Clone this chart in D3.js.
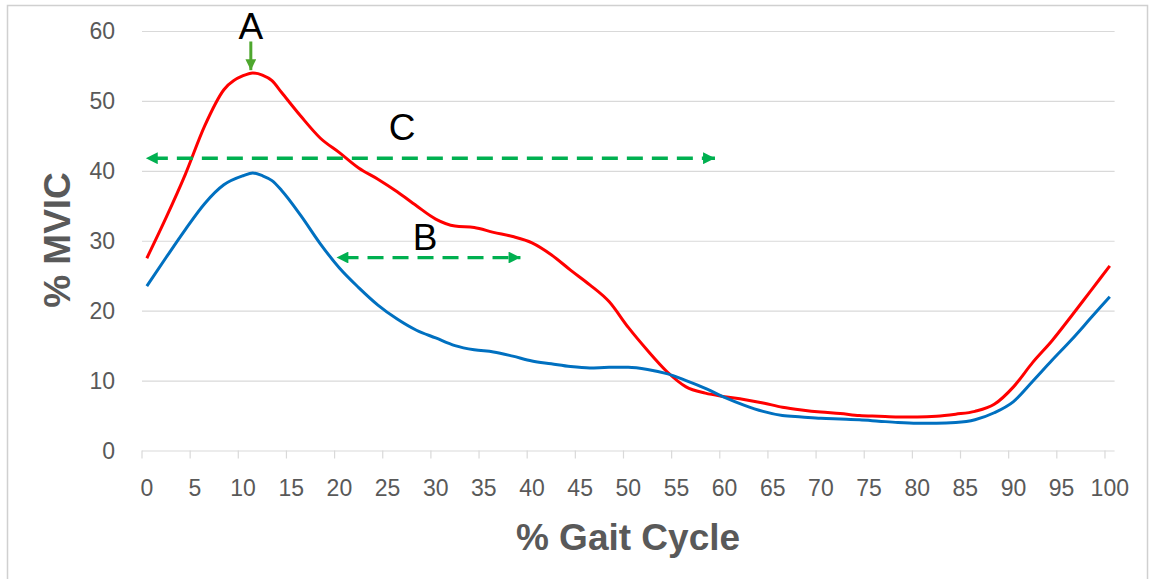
<!DOCTYPE html>
<html>
<head>
<meta charset="utf-8">
<script src="https://cdn.jsdelivr.net/npm/d3@7"></script>
<style>
  body { margin: 0; background: #fff; }
  .grid line { stroke: #d9d9d9; stroke-width: 1.2; }
  .grid path { display: none; }
</style>
</head>
<body>
<div id="chart"></div>
<script>
// % gait cycle sample points
const gaitPct = [0, 2, 4, 6, 8, 10, 11, 12, 13, 14, 16, 18, 20, 22, 24, 26, 28, 30, 32, 34, 36, 38, 40,
    42, 44, 46, 48, 50, 52, 54, 56, 58, 60, 62, 64, 66, 68, 70, 72, 74, 76, 78, 80, 82, 84, 86, 88, 90,
    92, 94, 96, 98, 100]

// red curve (% MVIC)
const redSeries = [27.5, 33.3, 39.5, 46.4, 51.6, 53.6, 54.0, 53.7, 52.9, 51.2, 47.8, 44.7, 42.6, 40.4,
    38.8, 37.0, 35.0, 33.1, 32.1, 31.9, 31.2, 30.6, 29.7, 28.0, 25.8, 23.7, 21.3, 17.6, 14.3, 11.3, 9.1,
    8.2, 7.7, 7.3, 6.8, 6.2, 5.8, 5.5, 5.3, 5.0, 4.9, 4.8, 4.8, 4.9, 5.2, 5.6, 6.6, 9.1, 12.6, 15.7,
    19.2, 22.8, 26.4]

// blue curve (% MVIC)
const blueSeries = [23.5, 27.6, 31.6, 35.3, 38.0, 39.3, 39.7, 39.3, 38.6, 37.2, 33.6, 29.6, 26.1, 23.3,
    20.8, 18.8, 17.2, 16.1, 15.0, 14.4, 14.1, 13.5, 12.8, 12.4, 12.0, 11.8, 11.9, 11.9, 11.6, 11.0, 10.0,
    8.9, 7.6, 6.5, 5.6, 5.0, 4.8, 4.6, 4.5, 4.4, 4.2, 4.0, 3.9, 3.9, 4.0, 4.4, 5.4, 7.0, 9.9, 12.9,
    15.8, 18.9, 22.0]

const xTicks = d3.range(0, 101, 5)
const yTicks = [0, 10, 20, 30, 40, 50, 60]

// annotations: label, x range (gait %), y (% MVIC)
const spanC = { label: "C", from: -0.1, to: 59, y: 41.8, labelX: 26.5, labelY: 44.4 }
const spanB = { label: "B", from: 19.7, to: 38.8, y: 27.6, labelX: 28.9, labelY: 28.7 }
const peakA = { label: "A", x: 10.8, yTop: 58.5, yTip: 54.4, labelY: 58.9 }

const width = 1149
const height = 579
const plot = { left: 142, right: 1114.6, top: 31, bottom: 450.5 }

const svg = d3.select("#chart").append("svg")
    .attr("width", width)
    .attr("height", height)
    .style("font-family", "'Liberation Sans', Arial, sans-serif")

// outer border
svg.append("rect")
    .attr("x", 7.5).attr("y", 5.5)
    .attr("width", width - 9).attr("height", height + 10)
    .attr("fill", "none")
    .attr("stroke", "#d0d0d0")
    .attr("stroke-width", 1.5)

// categories sit between tick marks
const xScale = d3.scaleLinear()
    .domain([-0.5, 100.5])
    .range([plot.left, plot.right])

const yScale = d3.scaleLinear()
    .domain([0, 60])
    .range([plot.bottom, plot.top])

// horizontal gridlines
svg.append("g")
    .attr("class", "grid")
    .attr("transform", `translate(${plot.left},0)`)
    .call(d3.axisLeft(yScale)
        .tickValues(yTicks)
        .tickSize(-(plot.right - plot.left))
        .tickFormat(""))

// y tick labels
svg.append("g")
    .selectAll("text")
    .data(yTicks)
    .join("text")
    .attr("x", 115)
    .attr("y", d => yScale(d))
    .attr("dy", "0.36em")
    .attr("text-anchor", "end")
    .attr("fill", "#595959")
    .style("font-size", "23px")
    .text(d => d)

// x axis ticks
const xAxis = svg.append("g")
    .attr("transform", `translate(0,${plot.bottom})`)
xAxis.selectAll("line")
    .data(xTicks)
    .join("line")
    .attr("x1", d => xScale(d - 0.5))
    .attr("x2", d => xScale(d - 0.5))
    .attr("y1", 0)
    .attr("y2", 8)
    .attr("stroke", "#d9d9d9")
    .attr("stroke-width", 1.2)
xAxis.selectAll("text")
    .data(xTicks)
    .join("text")
    .attr("x", d => xScale(d))
    .attr("y", 45)
    .attr("text-anchor", "middle")
    .attr("fill", "#595959")
    .style("font-size", "23px")
    .text(d => d)

// axis titles
svg.append("text")
    .attr("x", 628)
    .attr("y", 550)
    .attr("text-anchor", "middle")
    .attr("fill", "#595959")
    .style("font-size", "37px")
    .style("font-weight", "bold")
    .text("% Gait Cycle")

svg.append("text")
    .attr("transform", "translate(70,240) rotate(-90)")
    .attr("text-anchor", "middle")
    .attr("fill", "#595959")
    .style("font-size", "37px")
    .style("font-weight", "bold")
    .text("% MVIC")

// curves
const lineGenerator = d3.line()
    .x((d, i) => xScale(gaitPct[i]))
    .y(d => yScale(d))
    .curve(d3.curveMonotoneX)

svg.append("path")
    .attr("d", lineGenerator(redSeries))
    .attr("fill", "none")
    .attr("stroke", "#ff0000")
    .attr("stroke-width", 3)
    .attr("stroke-linejoin", "round")

svg.append("path")
    .attr("d", lineGenerator(blueSeries))
    .attr("fill", "none")
    .attr("stroke", "#0070c0")
    .attr("stroke-width", 3)
    .attr("stroke-linejoin", "round")

// arrow markers
const defs = svg.append("defs")
function addMarker(id, color) {
    defs.append("marker")
        .attr("id", id)
        .attr("viewBox", "0 0 10 10")
        .attr("refX", 10).attr("refY", 5)
        .attr("markerWidth", 4).attr("markerHeight", 3.6)
        .attr("markerUnits", "strokeWidth")
        .attr("orient", "auto-start-reverse")
        .append("path")
        .attr("d", "M0,0 L10,5 L0,10 Z")
        .attr("fill", color)
}
addMarker("arrow-dash", "#00b050")
addMarker("arrow-a", "#4ea72e")

function drawSpan(s) {
    svg.append("line")
        .attr("x1", xScale(s.from))
        .attr("x2", xScale(s.to))
        .attr("y1", yScale(s.y))
        .attr("y2", yScale(s.y))
        .attr("stroke", "#00b050")
        .attr("stroke-width", 3.3)
        .attr("stroke-dasharray", "16,9")
        .attr("stroke-dashoffset", -6)
        .attr("marker-start", "url(#arrow-dash)")
        .attr("marker-end", "url(#arrow-dash)")
    svg.append("text")
        .attr("x", xScale(s.labelX))
        .attr("y", yScale(s.labelY))
        .attr("text-anchor", "middle")
        .attr("fill", "#000")
        .style("font-size", "37px")
        .text(s.label)
}
drawSpan(spanC)
drawSpan(spanB)

svg.append("line")
    .attr("x1", xScale(peakA.x))
    .attr("x2", xScale(peakA.x))
    .attr("y1", yScale(peakA.yTop))
    .attr("y2", yScale(peakA.yTip))
    .attr("stroke", "#4ea72e")
    .attr("stroke-width", 3)
    .attr("marker-end", "url(#arrow-a)")
svg.append("text")
    .attr("x", xScale(peakA.x))
    .attr("y", yScale(peakA.labelY))
    .attr("text-anchor", "middle")
    .attr("fill", "#000")
    .style("font-size", "37px")
    .text(peakA.label)
</script>
</body>
</html>
